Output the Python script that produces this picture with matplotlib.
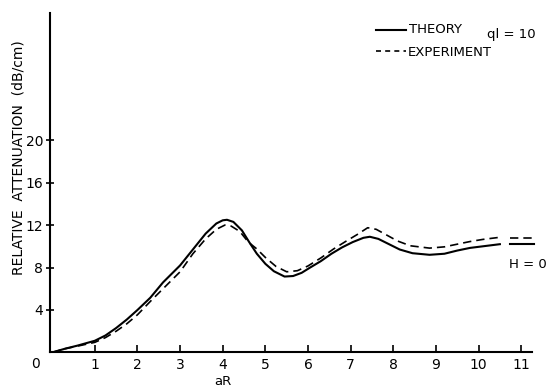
import matplotlib
matplotlib.use("Agg")
import matplotlib.pyplot as plt

# theory curve (solid)
theory_x = [0, 0.3, 0.6, 1.0, 1.25, 1.5, 1.75, 2.0, 2.3, 2.6, 3.0, 3.3, 3.6,
            3.85, 4.0, 4.1, 4.25, 4.45, 4.62, 4.8, 5.0, 5.2, 5.45, 5.65, 5.85,
            6.05, 6.3, 6.55, 6.8, 7.05, 7.3, 7.45, 7.65, 7.9, 8.15, 8.45, 8.85,
            9.2, 9.5, 9.8, 10.1, 10.5]
theory_y = [0, 0.35, 0.65, 1.1, 1.6, 2.3, 3.1, 4.0, 5.15, 6.6, 8.2, 9.7, 11.2,
            12.15, 12.45, 12.5, 12.3, 11.5, 10.4, 9.3, 8.35, 7.65, 7.15, 7.2, 7.5,
            8.0, 8.6, 9.3, 9.9, 10.4, 10.8, 10.9, 10.7, 10.2, 9.7, 9.35, 9.2,
            9.3, 9.6, 9.85, 10.0, 10.2]

# experiment curve (dashed)
exp_x = [0, 0.3, 0.6, 1.0, 1.25, 1.5, 1.75, 2.0, 2.3, 2.6, 3.0, 3.3, 3.6,
         3.85, 4.05, 4.2, 4.4, 4.6, 4.8, 5.0, 5.25, 5.5, 5.75, 6.0, 6.3, 6.6,
         6.9, 7.15, 7.4, 7.6, 7.85, 8.1, 8.4, 8.85, 9.2, 9.5, 9.8, 10.1, 10.5]
exp_y = [0, 0.35, 0.6, 0.95, 1.4, 2.0, 2.7, 3.55, 4.8, 6.0, 7.6, 9.3, 10.7,
         11.6, 12.0, 11.9, 11.4, 10.4, 9.75, 8.95, 8.1, 7.6, 7.7, 8.15, 8.9, 9.75,
         10.5, 11.1, 11.75, 11.6, 11.05, 10.5, 10.05, 9.83, 9.95, 10.2, 10.45, 10.65, 10.85]

# H = 0 asymptotes
h0_x = [10.73, 11.3]
h0_theory = [10.2, 10.2]
h0_exp = [10.8, 10.8]

xticks = [1, 2, 3, 4, 5, 6, 7, 8, 9, 10, 11]
yticks = [4, 8, 12, 16, 20]

plt.rcParams['font.family'] = 'DejaVu Sans'

fig = plt.figure(figsize=(5.5, 3.89), dpi=100)
ax = fig.add_axes([0.091, 0.094, 0.876, 0.873])

ax.plot(theory_x, theory_y, color='black', lw=1.5, solid_joinstyle='round')
ax.plot(exp_x, exp_y, color='black', lw=1.2, dashes=(5, 3))
ax.plot(h0_x, h0_theory, color='black', lw=1.5, clip_on=False)
ax.plot(h0_x, h0_exp, color='black', lw=1.2, dashes=(5, 3), clip_on=False)

ax.set_xlim(-0.05, 11.25)
ax.set_ylim(0, 32)
ax.spines['top'].set_visible(False)
ax.spines['right'].set_visible(False)
ax.spines['left'].set_linewidth(1.5)
ax.spines['bottom'].set_linewidth(1.5)

ax.set_xticks(xticks)
ax.set_xticklabels([str(t) for t in xticks], fontsize=10)
ax.set_yticks(yticks)
ax.set_yticklabels([str(t) for t in yticks], fontsize=10)
ax.tick_params(axis='x', direction='in', length=5, width=1.2, pad=4)
ax.tick_params(axis='y', direction='inout', length=6, width=1.2, pad=2)

ax.text(-0.022, -0.035, '0', transform=ax.transAxes, fontsize=10,
        ha='right', va='center')
ax.text(4.0, -2.1, 'aR', fontsize=9.5, ha='center', va='top')
fig.text(0.033, 0.595, 'RELATIVE  ATTENUATION  (dB/cm)', rotation=90,
         fontsize=10, ha='center', va='center')

# legend drawn by hand
ax.plot([7.6, 8.3], [30.4, 30.4], color='black', lw=1.5, clip_on=False)
ax.plot([7.6, 8.3], [28.4, 28.4], color='black', lw=1.2, dashes=(3, 2.5),
        clip_on=False)
ax.text(8.38, 30.4, 'THEORY', fontsize=9.5, va='center')
ax.text(10.2, 30.0, 'ql = 10', fontsize=9.5, va='center')
ax.text(8.33, 28.3, 'EXPERIMENT', fontsize=9.5, va='center')
ax.text(10.72, 8.3, 'H = 0', fontsize=9.5, va='center')

fig.savefig('out.png', dpi=100)
